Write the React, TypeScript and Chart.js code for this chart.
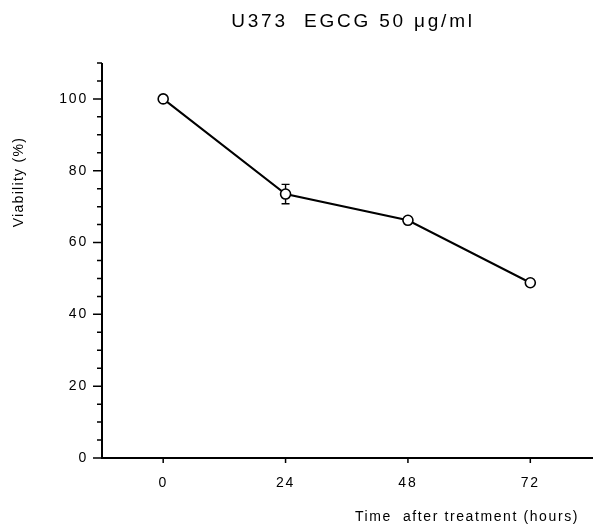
import React, { useEffect, useRef } from "react";
import { Chart, registerables } from "chart.js";

Chart.register(...registerables);

const chartTitle = "U373  EGCG 50 μg/ml";
const xAxisTitle = "Time  after treatment (hours)";
const yAxisTitle = "Viability (%)";

const hours = [0, 24, 48, 72];
const viability = [100, 73.5, 66.2, 48.8];
const errors = [0, 2.7, 0, 0];

const xTicks = [0, 24, 48, 72];
const yMin = 0;
const yMax = 110;
const yStep = 5;
const yLabelStep = 20;
const xMin = -12;
const xMax = 83;

const FONT = "'Liberation Sans', Arial, Helvetica, sans-serif";

const decorPlugin = {
  id: "decor",
  beforeDraw(chart: any) {
    (chart.ctx as any).letterSpacing = "1.8px";
  },
  afterDatasetsDraw(chart: any) {
    const { ctx, scales } = chart;
    const xs = scales.x;
    const ys = scales.y;
    ctx.save();
    ctx.strokeStyle = "#000";
    ctx.lineWidth = 1.4;
    hours.forEach((h, i) => {
      const e = errors[i];
      if (!e) return;
      const px = xs.getPixelForValue(h);
      const top = ys.getPixelForValue(viability[i] + e);
      const bot = ys.getPixelForValue(viability[i] - e);
      const cy = ys.getPixelForValue(viability[i]);
      ctx.beginPath();
      ctx.moveTo(px, top);
      ctx.lineTo(px, cy - 5);
      ctx.moveTo(px, cy + 5);
      ctx.lineTo(px, bot);
      ctx.moveTo(px - 4, top);
      ctx.lineTo(px + 4, top);
      ctx.moveTo(px - 4, bot);
      ctx.lineTo(px + 4, bot);
      ctx.stroke();
    });
    ctx.restore();
  },
  afterDraw(chart: any) {
    const { ctx, chartArea, scales } = chart;
    const xs = scales.x;
    const ys = scales.y;
    ctx.save();
    ctx.strokeStyle = "#000";
    ctx.lineWidth = 2;
    ctx.beginPath();
    ctx.moveTo(chartArea.left, chartArea.top);
    ctx.lineTo(chartArea.left, chartArea.bottom);
    ctx.lineTo(chart.width, chartArea.bottom);
    ctx.stroke();
    ctx.lineWidth = 1.5;
    ctx.beginPath();
    for (let v = yMin; v <= yMax; v += yStep) {
      const py = ys.getPixelForValue(v);
      const len = v % yLabelStep === 0 ? 9 : 5;
      ctx.moveTo(chartArea.left - len, py);
      ctx.lineTo(chartArea.left, py);
    }
    xTicks.forEach((t) => {
      const px = xs.getPixelForValue(t);
      ctx.moveTo(px, chartArea.bottom);
      ctx.lineTo(px, chartArea.bottom + 5);
    });
    ctx.stroke();

    ctx.fillStyle = "#000";
    (ctx as any).letterSpacing = "2.8px";
    ctx.font = `19px ${FONT}`;
    ctx.textAlign = "center";
    ctx.textBaseline = "middle";
    ctx.fillText(chartTitle, 353, 22);

    (ctx as any).letterSpacing = "1.6px";
    ctx.font = `14px ${FONT}`;
    ctx.textAlign = "right";
    ctx.fillText(xAxisTitle, 579, 517);

    (ctx as any).letterSpacing = "1.3px";
    ctx.font = `14px ${FONT}`;
    ctx.translate(19, 182);
    ctx.rotate(-Math.PI / 2);
    ctx.textAlign = "center";
    ctx.fillText(yAxisTitle, 0, 0);
    ctx.restore();
    (ctx as any).letterSpacing = "0px";
  },
};

export default function App() {
  const ref = useRef<HTMLCanvasElement | null>(null);
  useEffect(() => {
    document.body.style.margin = "0";
    const canvas = ref.current!;
    const chart = new Chart(canvas, {
      type: "line",
      data: {
        datasets: [
          {
            data: hours.map((h, i) => ({ x: h, y: viability[i] })),
            borderColor: "#000",
            borderWidth: 2,
            pointRadius: 5,
            pointBorderWidth: 1.6,
            pointBackgroundColor: "#fff",
            pointBorderColor: "#000",
            tension: 0,
          },
        ],
      },
      options: {
        animation: false,
        responsive: false,
        layout: { padding: { top: 63, right: 3, left: 8, bottom: 0 } },
        plugins: {
          legend: { display: false },
          tooltip: { enabled: false },
          title: { display: false },
        },
        scales: {
          x: {
            type: "linear",
            min: xMin,
            max: xMax,
            grid: { display: false, drawTicks: false },
            border: { display: false },
            afterBuildTicks: (s: any) => {
              s.ticks = xTicks.map((v) => ({ value: v }));
            },
            afterFit: (s: any) => {
              s.height = 68;
            },
            ticks: {
              padding: 17,
              color: "#000",
              font: { family: FONT, size: 14 },
              maxRotation: 0,
              autoSkip: false,
            },
          },
          y: {
            type: "linear",
            min: yMin,
            max: yMax,
            grid: { display: false, drawTicks: false },
            border: { display: false },
            afterFit: (s: any) => {
              s.width = 94;
            },
            ticks: {
              stepSize: yStep,
              padding: 14,
              color: "#000",
              font: { family: FONT, size: 14 },
              autoSkip: false,
              callback: (v: any) => (Number(v) % yLabelStep === 0 ? String(v) : ""),
            },
          },
        },
      },
      plugins: [decorPlugin],
    });
    return () => chart.destroy();
  }, []);
  return <canvas ref={ref} width={593} height={526} style={{ display: "block" }} />;
}
